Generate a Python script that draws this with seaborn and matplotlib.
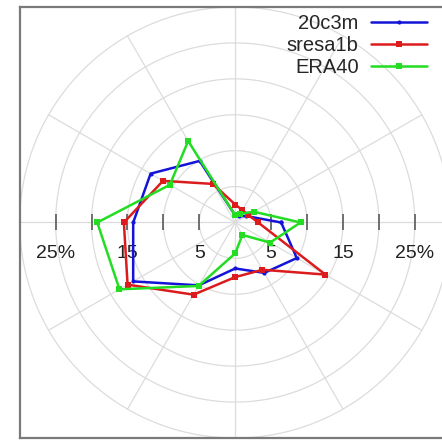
import numpy as np
import pandas as pd
import matplotlib
matplotlib.use("Agg")
import matplotlib.pyplot as plt
import seaborn as sns

# Direction bins (degrees, counter-clockwise from east) and frequency (%) per bin
directions = [0, 30, 60, 90, 120, 150, 180, 210, 240, 270, 300, 330]
freq_20c3m = [6.4, 1.8, 1.0, 1.0, 9.9, 13.6, 14.2, 16.4, 10.1, 6.4, 8.1, 9.9]
freq_sresa1b = [3.2, 2.1, 2.0, 2.5, 6.2, 11.6, 15.5, 17.3, 11.6, 7.6, 7.6, 14.5]
freq_era40 = [9.1, 3.0, 1.4, 1.0, 13.1, 10.5, 19.2, 18.6, 10.2, 4.3, 2.0, 5.6]

series_names = ["20c3m", "sresa1b", "ERA40"]
series_values = [freq_20c3m, freq_sresa1b, freq_era40]
series_colors = ["#1414d8", "#dc1c1c", "#22dd22"]
series_markers = ["o", "s", "s"]
series_msize = [3.0, 4.0, 4.0]

ring_radii = [5, 10, 15, 20, 25, 30]
tick_positions = [-25, -20, -15, -10, -5, 5, 10, 15, 20, 25]
label_positions = [-25, -15, -5, 5, 15, 25]
label_texts = ["25%", "15", "5", "5", "15", "25%"]

sns.set_style("white")
plt.rcParams["font.family"] = ["Liberation Sans", "DejaVu Sans"]

fig = plt.figure(figsize=(4.42, 4.40), dpi=100)
ax = fig.add_axes([19.7 / 442, 2 / 440, 431 / 442, 431 / 440])
ax.set_xlim(-30, 30)
ax.set_ylim(-30, 30)
ax.set_aspect("equal", adjustable="box")

grid_col = "#dcdcdc"
theta = np.linspace(0, 2 * np.pi, 361)
for r in ring_radii:
    ax.plot(r * np.cos(theta), r * np.sin(theta), color=grid_col, lw=0.9, zorder=1)
for d in range(0, 360, 30):
    a = np.deg2rad(d)
    ax.plot([0, 30 * np.cos(a)], [0, 30 * np.sin(a)], color=grid_col, lw=0.9, zorder=1)

# short ticks along the horizontal axis
ax.plot(tick_positions, [0] * len(tick_positions), ls="none", marker="|",
        markersize=11, mew=1.2, color="#5a5a5a", zorder=2)
for xp, lab in zip(label_positions, label_texts):
    ax.text(xp, -4.3, lab, ha="center", va="center", fontsize=14, color="#222222")

# closed rose polygons
ang = np.deg2rad(directions + [directions[0]])
handles = []
for name, vals, col, mk, ms in zip(series_names, series_values, series_colors,
                                   series_markers, series_msize):
    r = np.array(vals + [vals[0]])
    df = pd.DataFrame({"x": r * np.cos(ang), "y": r * np.sin(ang)})
    sns.lineplot(data=df, x="x", y="y", sort=False, estimator=None, ax=ax,
                 color=col, lw=1.8, marker=mk, markersize=ms, markeredgewidth=0,
                 zorder=3)
    handles.append(ax.lines[-1])

leg = ax.legend(handles, series_names, loc="upper right",
                bbox_to_anchor=(427 / 442, 1 - 14 / 440),
                bbox_transform=fig.transFigure, frameon=False, markerfirst=False,
                fontsize=14.5, handlelength=2.8, handletextpad=0.6,
                labelspacing=0.14, borderpad=0, borderaxespad=0)

ax.set_xlabel("")
ax.set_ylabel("")
ax.set_xticks([])
ax.set_yticks([])
for s in ax.spines.values():
    s.set_color("#7a7a7a")
    s.set_linewidth(1.6)

fig.savefig("out.png", dpi=100)
